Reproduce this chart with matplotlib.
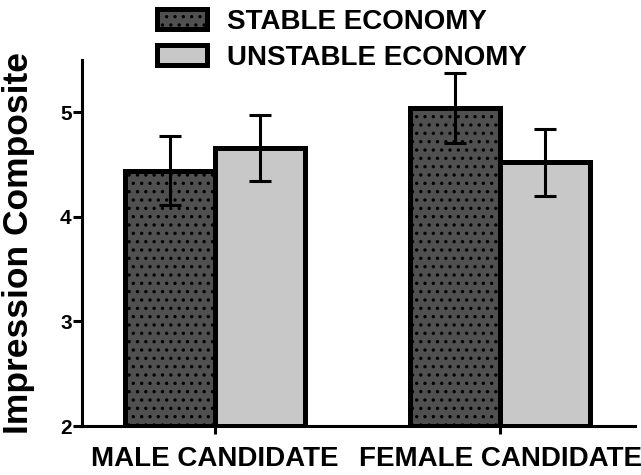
import matplotlib
matplotlib.use("Agg")
import matplotlib.pyplot as plt
import numpy as np

groups = ["MALE CANDIDATE", "FEMALE CANDIDATE"]
series = ["STABLE ECONOMY", "UNSTABLE ECONOMY"]
stable_mean = [4.44, 5.04]
stable_err = [0.33, 0.335]
unstable_mean = [4.66, 4.52]
unstable_err = [0.315, 0.32]

plt.rcParams['font.family'] = ['Liberation Sans', 'DejaVu Sans']
plt.rcParams['font.weight'] = 'bold'
plt.rcParams['hatch.linewidth'] = 1.2

fig = plt.figure(figsize=(6.41, 4.75), dpi=100)
ax = fig.add_axes([0.128, 0.103, 0.863, 0.771])

x = np.arange(len(groups))
w = 0.316
b1 = ax.bar(x - w / 2, np.array(stable_mean) - 2, w, bottom=2, color='#505050',
            edgecolor='black', linewidth=3.6, hatch='..', label=series[0], zorder=2)
b2 = ax.bar(x + w / 2, np.array(unstable_mean) - 2, w, bottom=2, color='#c8c8c8',
            edgecolor='black', linewidth=3.6, label=series[1], zorder=2)
ax.errorbar(x - w / 2, stable_mean, yerr=stable_err, fmt='none', ecolor='black',
            elinewidth=2.2, capsize=8, capthick=2.2, zorder=3)
ax.errorbar(x + w / 2, unstable_mean, yerr=unstable_err, fmt='none', ecolor='black',
            elinewidth=2.2, capsize=8, capthick=2.2, zorder=3)

ax.set_xlim(-0.467, 1.474)
ax.set_ylim(2, 5.5)
ax.set_yticks([2, 3, 4, 5])
ax.set_xticks(x)
ax.set_xticklabels(groups, fontsize=20, fontweight='bold')
ax.tick_params(axis='y', labelsize=15, length=6.5, width=2.2, pad=1)
ax.tick_params(axis='x', length=6, width=2.2, pad=8)
for lab in ax.get_yticklabels():
    lab.set_fontweight('bold')
for side in ['top', 'right']:
    ax.spines[side].set_visible(False)
for side in ['left', 'bottom']:
    ax.spines[side].set_linewidth(2.2)
ax.set_ylabel("Impression Composite", fontsize=25.5, fontweight='bold')
ax.yaxis.set_label_coords(-0.085, 0.5)

leg = fig.legend(handles=[b1, b2], loc='upper left', bbox_to_anchor=(153 / 641, 0.99),
                 frameon=False, fontsize=20, handlelength=1.8, handleheight=0.72,
                 handletextpad=0.7, labelspacing=0.35, borderpad=0.15, borderaxespad=0)
for t in leg.get_texts():
    t.set_fontweight('bold')

fig.savefig("out.png", dpi=100)
